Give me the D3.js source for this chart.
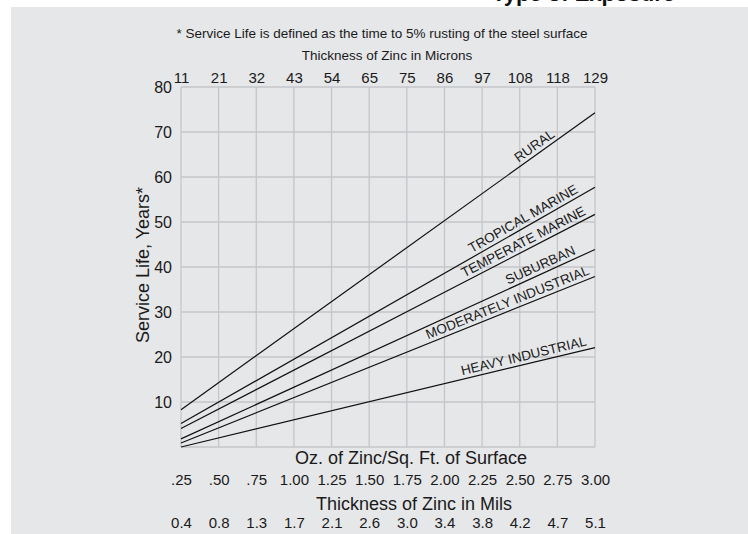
<!DOCTYPE html>
<html>
<head>
<meta charset="utf-8">
<script src="https://cdn.jsdelivr.net/npm/d3@7"></script>
<style>
  body { margin: 0; background: #fff; }
  svg text { font-family: "Liberation Sans", Arial, sans-serif; fill: #1a1a1a; }
</style>
</head>
<body>
<div id="chart"></div>
<script>
// tick labels
var ozTicks = [0.25, 0.50, 0.75, 1.00, 1.25, 1.50, 1.75, 2.00, 2.25, 2.50, 2.75, 3.00];
var ozLabels = [".25", ".50", ".75", "1.00", "1.25", "1.50", "1.75", "2.00", "2.25", "2.50", "2.75", "3.00"];
var micronLabels = ["11", "21", "32", "43", "54", "65", "75", "86", "97", "108", "118", "129"];
var milLabels = ["0.4", "0.8", "1.3", "1.7", "2.1", "2.6", "3.0", "3.4", "3.8", "4.2", "4.7", "5.1"];
var yTicks = [10, 20, 30, 40, 50, 60, 70, 80];

// series: service life (years) at .25 and 3.00 oz/sq ft
var exposures = ["RURAL", "TROPICAL MARINE", "TEMPERATE MARINE", "SUBURBAN", "MODERATELY INDUSTRIAL", "HEAVY INDUSTRIAL"];
var lifeAtLow = [8.3, 5.2, 4.1, 1.8, 0.9, 0];
var lifeAtHigh = [74.3, 57.7, 51.7, 43.9, 37.9, 22.1];
var labelAt = [2.63, 2.55, 2.55, 2.66, 2.44, 2.54];

var W = 748, H = 534;
var margin = {top: 87, right: 153, bottom: 87, left: 181};
var width = W - margin.left - margin.right,
    height = H - margin.top - margin.bottom;

var svg = d3.select("#chart")
    .append("svg")
        .attr("width", W)
        .attr("height", H);

// title, mostly cut off by the panel
svg.append("text")
    .attr("x", 492)
    .attr("y", 1)
    .style("font-size", "22px")
    .style("font-weight", "bold")
    .style("fill", "#111")
    .text("Type of Exposure");

svg.append("rect")
    .attr("x", 11).attr("y", 7)
    .attr("width", W - 11).attr("height", H - 7)
    .style("fill", "#e6e7e9");

svg.append("text")
    .attr("x", 382).attr("y", 38)
    .attr("text-anchor", "middle")
    .style("font-size", "13.5px")
    .text("* Service Life is defined as the time to 5% rusting of the steel surface");

svg.append("text")
    .attr("x", 387).attr("y", 60)
    .attr("text-anchor", "middle")
    .style("font-size", "13.5px")
    .text("Thickness of Zinc in Microns");

var g = svg.append("g")
    .attr("transform", "translate(" + margin.left + "," + margin.top + ")");

var x = d3.scaleLinear().domain([0.25, 3.0]).range([0, width]);
var y = d3.scaleLinear().domain([0, 80]).range([height, 0]);

// grid
g.append("g")
    .selectAll("line")
    .data(ozTicks)
    .enter()
    .append("line")
        .attr("x1", function (d) { return x(d); })
        .attr("x2", function (d) { return x(d); })
        .attr("y1", 0).attr("y2", height)
        .style("stroke", "#c5c6c8").style("stroke-width", 1.3);

g.append("g")
    .selectAll("line")
    .data([0].concat(yTicks))
    .enter()
    .append("line")
        .attr("x1", 0).attr("x2", width)
        .attr("y1", function (d) { return y(d); })
        .attr("y2", function (d) { return y(d); })
        .style("stroke", "#c5c6c8").style("stroke-width", 1.3);

function styleAxis(sel, size) {
    sel.select(".domain").remove();
    sel.attr("font-size", null).attr("font-family", null);
    sel.selectAll("text")
        .style("font-size", size)
        .style("font-family", "'Liberation Sans', Arial, sans-serif")
        .style("fill", "#1a1a1a");
}

// y axis
var yAxis = g.append("g")
    .call(d3.axisLeft(y).tickValues(yTicks).tickSize(0).tickPadding(9));
styleAxis(yAxis, "16px");

// top axis (microns)
var micronAxis = g.append("g")
    .call(d3.axisTop(x).tickValues(ozTicks).tickSize(0).tickPadding(4)
        .tickFormat(function (d, i) { return micronLabels[i]; }));
styleAxis(micronAxis, "15px");

// bottom axis (oz)
var ozAxis = g.append("g")
    .attr("transform", "translate(0," + (height + 27) + ")")
    .call(d3.axisBottom(x).tickValues(ozTicks).tickSize(0).tickPadding(0)
        .tickFormat(function (d, i) { return ozLabels[i]; }));
styleAxis(ozAxis, "15px");

// mils axis
var milAxis = g.append("g")
    .attr("transform", "translate(0," + (height + 70) + ")")
    .call(d3.axisBottom(x).tickValues(ozTicks).tickSize(0).tickPadding(0)
        .tickFormat(function (d, i) { return milLabels[i]; }));
styleAxis(milAxis, "15px");

// axis titles
svg.append("text")
    .attr("x", 411).attr("y", 464)
    .attr("text-anchor", "middle")
    .style("font-size", "18px")
    .text("Oz. of Zinc/Sq. Ft. of Surface");

svg.append("text")
    .attr("x", 414).attr("y", 510)
    .attr("text-anchor", "middle")
    .style("font-size", "18px")
    .text("Thickness of Zinc in Mils");

svg.append("text")
    .attr("transform", "translate(149,265) rotate(-90)")
    .attr("text-anchor", "middle")
    .style("font-size", "18px")
    .text("Service Life, Years*");

// lines
var series = exposures.map(function (name, i) {
    return {name: name, values: [[0.25, lifeAtLow[i]], [3.0, lifeAtHigh[i]]], at: labelAt[i]};
});

var line = d3.line()
    .x(function (d) { return x(d[0]); })
    .y(function (d) { return y(d[1]); });

g.append("g")
    .selectAll("path")
    .data(series)
    .enter()
    .append("path")
        .attr("d", function (d) { return line(d.values); })
        .style("fill", "none")
        .style("stroke", "#111")
        .style("stroke-width", 1.2);

// labels along the lines
g.append("g")
    .selectAll("text")
    .data(series)
    .enter()
    .append("text")
        .attr("transform", function (d) {
            var a = d.values[0], b = d.values[1];
            var t = (d.at - a[0]) / (b[0] - a[0]);
            var v = a[1] + t * (b[1] - a[1]);
            var ang = Math.atan2(y(b[1]) - y(a[1]), x(b[0]) - x(a[0])) * 180 / Math.PI;
            return "translate(" + x(d.at) + "," + y(v) + ") rotate(" + ang + ")";
        })
        .attr("dy", -4)
        .attr("text-anchor", "middle")
        .style("font-size", "13.5px")
        .text(function (d) { return d.name; });
</script>
</body>
</html>
